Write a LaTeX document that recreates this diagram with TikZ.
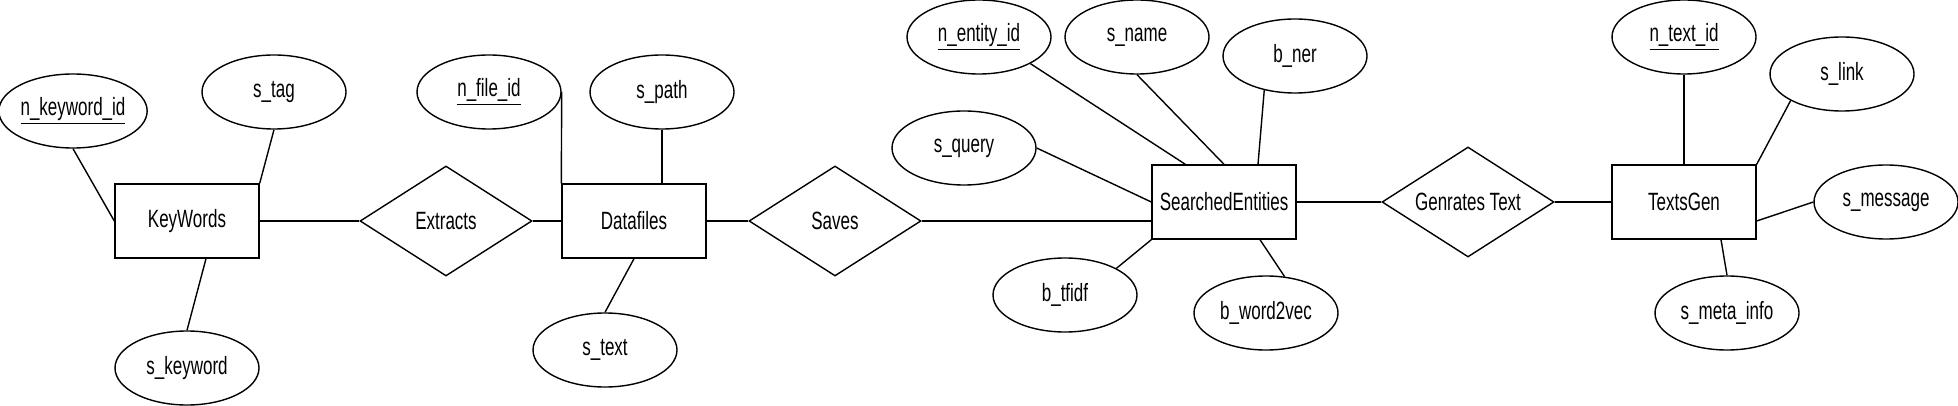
\documentclass[tikz,border=0pt]{standalone}
\usepackage{fontspec}
\setmainfont{Liberation Sans}[FakeStretch=0.68]
\usetikzlibrary{shapes.geometric}

\begin{document}
\begin{tikzpicture}[x=0.5pt,y=-0.5pt,line width=0.7pt,
    font=\fontsize{12.5}{14}\selectfont,
    attrib/.style={ellipse, draw, minimum width=72pt, minimum height=37pt, inner sep=0pt},
    entity/.style={rectangle, draw, minimum width=72pt, minimum height=37pt, inner sep=0pt},
    relation/.style={diamond, draw, aspect=1.6, minimum width=86pt, minimum height=55pt, inner sep=0pt}]
    \useasboundingbox (0,0) rectangle (1958,406);

    \node[entity] at (187, 221)    (kw)     {KeyWords};
    \node[attrib] at (73, 111)     (kid)    {\underline{n\_keyword\_id}};
    \node[attrib] at (274, 92)     (stag)   {s\_tag};
    \node[attrib] at (187, 368)    (skw)    {s\_keyword};
    \node[relation] at (446, 221)  (extr)   {Extracts};
    \node[entity] at (634, 221)    (df)     {Datafiles};
    \node[attrib] at (489, 92)     (fid)    {\underline{n\_file\_id}};
    \node[attrib] at (662, 92)     (spath)  {s\_path};
    \node[attrib] at (605, 350)    (stext)  {s\_text};
    \node[relation] at (835, 221)  (saves)  {Saves};
    \node[entity] at (1224, 202)   (se)     {SearchedEntities};
    \node[attrib] at (979, 37)     (eid)    {\underline{n\_entity\_id}};
    \node[attrib] at (1137, 37)    (sname)  {s\_name};
    \node[attrib] at (1295, 56)    (bner)   {b\_ner};
    \node[attrib] at (964, 148)    (squery) {s\_query};
    \node[attrib] at (1065, 295)   (btfidf) {b\_tfidf};
    \node[attrib] at (1266, 313)   (bw2v)   {b\_word2vec};
    \node[relation] at (1468, 202) (gen)    {Genrates Text};
    \node[entity] at (1684, 202)   (tg)     {TextsGen};
    \node[attrib] at (1684, 37)    (tid)    {\underline{n\_text\_id}};
    \node[attrib] at (1842, 74)    (slink)  {s\_link};
    \node[attrib] at (1886, 202)   (smsg)   {s\_message};
    \node[attrib] at (1727, 313)   (smeta)  {s\_meta\_info};

    \draw (kid.south) -- (kw.west);
    \draw (stag.south) -- (kw.north east);
    \draw ([xshift=9.5pt]kw.south) -- (skw.north);
    \draw (kw.east) -- (extr.west);
    \draw (extr.east) -- (df.west);
    \draw (fid.east) -- (df.north west);
    \draw (spath.south) -- (spath.south |- df.north);
    \draw (df.south) -- (stext.north);
    \draw (df.east) -- (saves.west);
    \draw (saves.east) -- (se.west |- saves.east);
    \draw (eid.south east) -- ([xshift=17pt]se.north west);
    \draw (sname.south) -- (se.north);
    \draw (bner.228) -- ([xshift=17pt]se.north);
    \draw (squery.east) -- (se.west);
    \draw (btfidf.north east) -- (se.south west);
    \draw ([xshift=18pt]se.south) -- (bw2v.63);
    \draw (se.east) -- (gen.west);
    \draw (gen.east) -- (tg.west);
    \draw (tid.south) -- (tg.north);
    \draw (slink.south west) -- (tg.north east);
    \draw ([yshift=-9.5pt]tg.east) -- (smsg.west);
    \draw ([xshift=18.5pt]tg.south) -- (smeta.north);
\end{tikzpicture}
\end{document}
